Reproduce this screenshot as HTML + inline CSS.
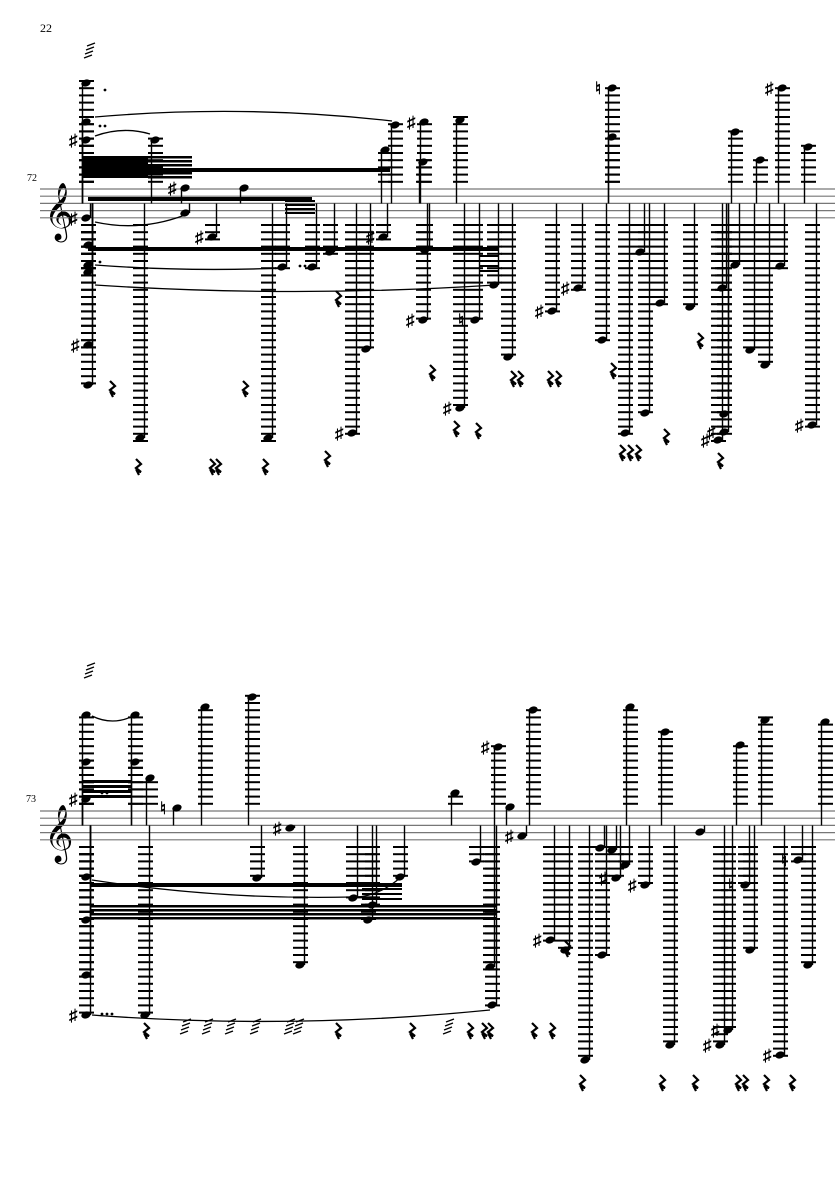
<!DOCTYPE html>
<html><head><meta charset="utf-8"><style>
html,body{margin:0;padding:0;background:#fff;width:835px;height:1181px;overflow:hidden}
svg{display:block}
text{font-family:"Liberation Serif",serif}
</style></head><body>
<svg id="s" width="835" height="1181" viewBox="0 0 835 1181" xmlns="http://www.w3.org/2000/svg">
<text x="40" y="32" font-size="12">22</text>
<text x="27" y="181" font-size="10">72</text>
<text x="26" y="802" font-size="10">73</text>
<text x="44" y="228" font-size="50" font-family="DejaVu Sans,serif">𝄞</text>
<text x="44" y="850" font-size="50" font-family="DejaVu Sans,serif">𝄞</text>
</svg>
<script>
var s=document.getElementById('s'),h='';
function staff(top){for(var i=0;i<5;i++){var y=top+i*7.2;h+='<line x1="40" x2="835" y1="'+y+'" y2="'+y+'" stroke="#777" stroke-width="1.2"/>';}}
staff(189);staff(811);
function note(top,x,y,acc){
 var bot=top+28.8,mid=top+14.4,ly;
 if(y<top-3){for(ly=top-7.2;ly>=y-3;ly-=7.2)h+='<line x1="'+(x-7)+'" x2="'+(x+8)+'" y1="'+ly+'" y2="'+ly+'" stroke="#000" stroke-width="2"/>';}
 if(y>bot+3){for(ly=bot+7.2;ly<=y+3;ly+=7.2)h+='<line x1="'+(x-7)+'" x2="'+(x+8)+'" y1="'+ly+'" y2="'+ly+'" stroke="#000" stroke-width="2"/>';}
 var sx=y<mid?x-3.5:x+4.5;
 h+='<line x1="'+sx+'" x2="'+sx+'" y1="'+y+'" y2="'+mid+'" stroke="#000" stroke-width="1.4"/>';
 h+='<ellipse cx="'+x+'" cy="'+y+'" rx="4.8" ry="3.4" transform="rotate(-20 '+x+' '+y+')" fill="#000"/>';
 if(acc)h+='<text x="'+(x-17)+'" y="'+(y+6)+'" font-size="17" font-weight="bold" font-family="DejaVu Sans,serif">'+acc+'</text>';
}
function rest(x,y){h+='<polyline points="'+(x-2)+','+(y-7)+' '+(x+3)+','+(y-2)+' '+(x-2)+','+(y+2)+' '+(x+3)+','+(y+6)+' '+(x-1)+','+(y+5)+' '+(x+1)+','+(y+9)+'" fill="none" stroke="#000" stroke-width="2.2"/>';}
var A=[[86,83],[86,122],[86,140,'♯'],[86,218,'♯'],[88,245],[88,265],[88,272],[88,345,'♯'],[88,385],
[140,438],[155,140],[185,188,'♯'],[185,213],[212,237,'♯'],[244,188],[268,438],[282,267],[312,267],[330,252],[352,433,'♯'],[366,349],[383,237,'♯'],[385,150],[395,125],
[423,320,'♯'],[424,122,'♯'],[423,162],[425,250],[460,408,'♯'],[460,120],[475,320,'♮'],[494,285],[508,357],[552,311,'♯'],[578,288,'♯'],[602,340],[612,88,'♮'],[612,137],[625,433],[640,252],[645,413],[660,303],[690,307],
[722,288],[735,265],[735,132],[724,414],[724,432,'♯'],[718,440,'♯'],[750,350],[760,160],[765,365],[780,266],[782,88,'♯'],[808,147],[812,425,'♯']];
A.forEach(function(n){note(189,n[0],n[1],n[2]);});
var B=[[86,715],[86,762],[86,799,'♯'],[86,877],[86,920],[86,975],[86,1015,'♯'],[135,715],[135,762],[145,1015],[150,778],[177,808,'♮'],[205,707],[252,697],[257,878],[290,828,'♯'],[300,965],[353,898],[368,920],[372,905],[400,877],[455,793],[476,862],[490,967],[492,1005],[498,747,'♯'],[510,807],[522,836,'♯'],[533,710],[550,940,'♯'],[565,950],[585,1060],[600,848],[602,955],[612,850],[616,878,'♯'],[625,865],[630,707],[645,885,'♯'],[665,732],[670,1045],[700,832],[720,1045,'♯'],[728,1030,'♯'],[740,745],[745,885,'♮'],[750,950],[765,720],[780,1055,'♯'],[798,860,'♮'],[808,965],[825,722]];
B.forEach(function(n){note(811,n[0],n[1],n[2]);});
function bm(x1,x2,y1,y2,w){h+='<polygon points="'+x1+','+y1+' '+x2+','+y2+' '+x2+','+(y2+w)+' '+x1+','+(y1+w)+'" fill="#000"/>';}
bm(82,148,156,156,22);for(var i=0;i<6;i++)bm(148,192,156+i*4,156+i*4,2.5);
bm(88,390,168,168,4);bm(88,312,197,197,4);for(i=0;i<4;i++)bm(285,315,200+i*4,200+i*4,2);
bm(88,498,247,247,4);for(i=0;i<4;i++)bm(480,498,255+i*5,255+i*5,2);
for(i=0;i<4;i++)bm(82,132,780+i*5,780+i*5,3);bm(90,402,883,883,4);
for(i=0;i<4;i++)bm(90,497,905+i*4,905+i*4,2.5);for(i=0;i<3;i++)bm(362,402,888+i*5,888+i*5,2);
function sl(x1,y1,x2,y2,c){h+='<path d="M'+x1+','+y1+' Q'+((x1+x2)/2)+','+c+' '+x2+','+y2+'" fill="none" stroke="#000" stroke-width="1.3"/>';}
sl(95,117,392,121,104);sl(95,136,150,134,126);sl(95,222,185,215,232);sl(95,265,282,268,272);sl(95,285,495,285,298);
sl(92,716,133,716,726);sl(92,1015,490,1010,1030);sl(92,880,352,897,900);sl(352,897,400,878,898);
[[100,126],[105,126],[100,262],[300,266],[305,266],[102,793],[107,793],[102,1014],[107,1014],[112,1014],[105,90]].forEach(function(d){h+='<circle cx="'+d[0]+'" cy="'+d[1]+'" r="1.4"/>';});
[[138,466],[212,466],[218,466],[265,466],[327,458],[245,388],[338,298],[432,372],[513,378],[520,378],[550,378],[558,378],[613,370],[456,428],[478,430],[622,452],[630,452],[638,452],[666,436],[720,460],[700,340],[112,388],
[146,1030],[338,1030],[412,1030],[470,1030],[484,1030],[490,1030],[534,1030],[552,1030],[567,948],[582,1082],[662,1082],[695,1082],[738,1082],[745,1082],[766,1082],[792,1082]].forEach(function(r){rest(r[0],r[1]);});
[[183,1028],[205,1028],[228,1028],[253,1028],[287,1028],[296,1028],[446,1028],[87,52],[87,672]].forEach(function(t){for(var k=0;k<4;k++)h+='<line x1="'+(t[0]-3+k)+'" y1="'+(t[1]+6-k*4)+'" x2="'+(t[0]+5+k)+'" y2="'+(t[1]+3-k*4)+'" stroke="#000" stroke-width="1.3"/>';});
s.insertAdjacentHTML('beforeend',h);
</script>
</body></html>
